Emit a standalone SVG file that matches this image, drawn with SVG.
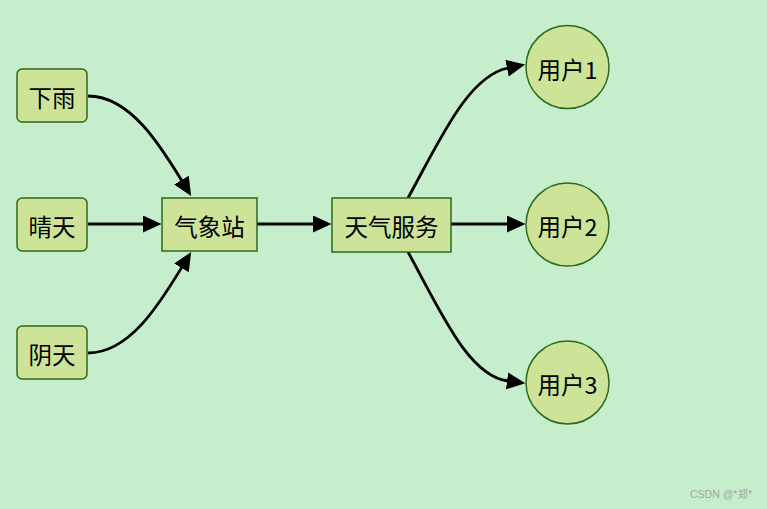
<svg xmlns="http://www.w3.org/2000/svg" width="767" height="509" viewBox="0 0 767 509">
<style>
.n{fill:#cde498;stroke:#2b6a1c;stroke-width:1.5}
.t{font-family:"Noto Sans CJK SC","Liberation Sans",sans-serif;font-size:23.5px;fill:#000;text-anchor:middle;dominant-baseline:central}
.e{fill:none;stroke:#000;stroke-width:2.8}
</style>
<defs>
<marker id="ah" markerUnits="userSpaceOnUse" markerWidth="20" markerHeight="18" refX="1" refY="8.5" orient="auto" viewBox="0 0 20 18">
<path d="M0,0 L18.5,8.5 L0,17 z" fill="#000"/>
</marker>
</defs>
<rect width="767" height="509" fill="#c6eecc"/>
<g id="connectors">
<path class="e" marker-end="url(#ah)" d="M88,96 C130,96 160,145 182,181"/>
<path class="e" marker-end="url(#ah)" d="M88,224 L144,224"/>
<path class="e" marker-end="url(#ah)" d="M88,353 C130,353 160,303 182,267"/>
<path class="e" marker-end="url(#ah)" d="M257,224 L314,224"/>
<path class="e" marker-end="url(#ah)" d="M408,198 C440,140 468,76 508,68"/>
<path class="e" marker-end="url(#ah)" d="M451,224 L508,224"/>
<path class="e" marker-end="url(#ah)" d="M408,252 C440,310 468,376 508,381"/>
</g>
<g id="xiayu"><rect class="n" x="17" y="69" width="70" height="53" rx="5"/><text class="t" x="52" y="97">下雨</text></g>
<g id="qingtian"><rect class="n" x="17" y="198" width="70" height="53" rx="5"/><text class="t" x="52" y="226">晴天</text></g>
<g id="yintian"><rect class="n" x="17" y="326" width="70" height="53" rx="5"/><text class="t" x="52" y="354">阴天</text></g>
<g id="qixiangzhan"><rect class="n" x="162" y="198" width="95" height="53"/><text class="t" x="209.5" y="226">气象站</text></g>
<g id="tianqifuwu"><rect class="n" x="332" y="198" width="119" height="54"/><text class="t" x="391.5" y="226">天气服务</text></g>
<g id="user1"><circle class="n" cx="567.5" cy="67" r="41.5"/><text class="t" x="567.5" y="69">用户1</text></g>
<g id="user2"><circle class="n" cx="567.5" cy="224.5" r="41.5"/><text class="t" x="567.5" y="226">用户2</text></g>
<g id="user3"><circle class="n" cx="567.5" cy="382.5" r="41.5"/><text class="t" x="567.5" y="384">用户3</text></g>
<text x="752" y="494" font-family="'Liberation Sans','Noto Sans CJK SC',sans-serif" font-size="10.5" fill="#a0a8a0" text-anchor="end" dominant-baseline="central">CSDN @*郑*</text>
</svg>
